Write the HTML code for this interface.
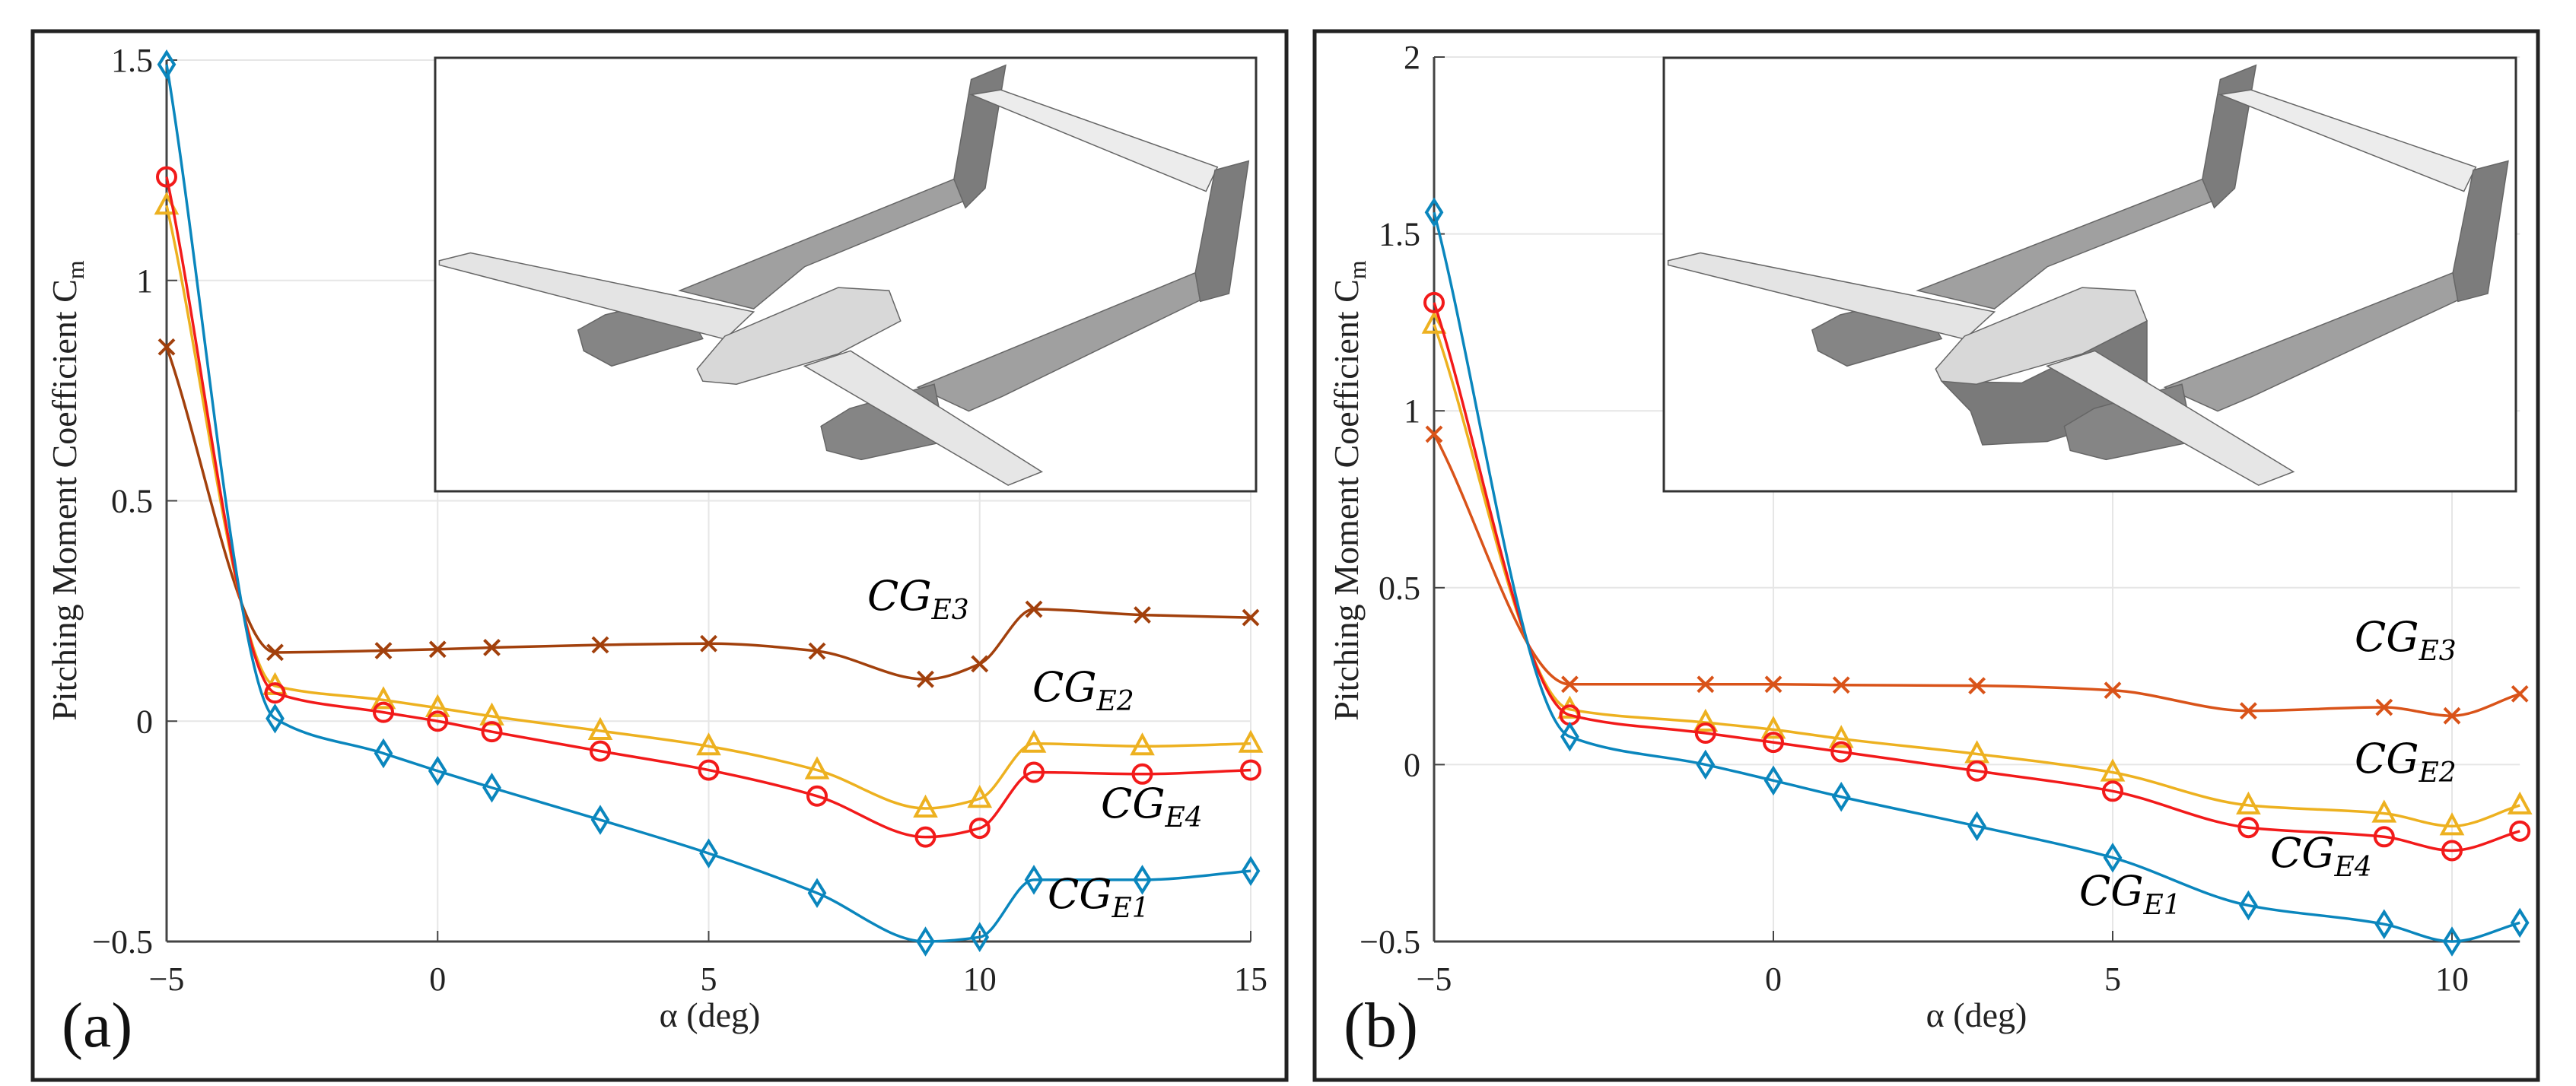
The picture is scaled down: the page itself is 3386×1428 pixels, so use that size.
<!DOCTYPE html>
<html><head><meta charset="utf-8"><style>
html,body{margin:0;padding:0;background:#fff}
svg{display:block}
svg text{font-family:'Liberation Serif','DejaVu Serif',serif}
svg text.lbl{font-family:'DejaVu Serif','Liberation Serif',serif;font-style:italic}
</style></head><body>
<svg id="fig" width="3386" height="1428" viewBox="0 0 3386 1428" xmlns="http://www.w3.org/2000/svg"></svg>
<script>
// ---- data: panel (a)
const alphaA = [-5,-3,-1,0,1,3,5,7,9,10,11,13,15];
const cgE1A = [1.49,0.006,-0.073,-0.113,-0.151,-0.224,-0.30,-0.39,-0.50,-0.49,-0.36,-0.36,-0.34];
const cgE2A = [1.17,0.08,0.048,0.03,0.011,-0.022,-0.057,-0.111,-0.198,-0.176,-0.051,-0.057,-0.051];
const cgE3A = [0.849,0.156,0.16,0.163,0.167,0.173,0.176,0.159,0.095,0.13,0.254,0.241,0.235];
const cgE4A = [1.235,0.064,0.02,0,-0.024,-0.068,-0.111,-0.17,-0.263,-0.243,-0.116,-0.12,-0.111];
const xTicksA = [-5,0,5,10,15];
const yTicksA = [-0.5,0,0.5,1,1.5];
const xTickLabelsA = ["\u22125","0","5","10","15"];
const yTickLabelsA = ["\u22120.5","0","0.5","1","1.5"];
// ---- data: panel (b)
const alphaB = [-5,-3,-1,0,1,3,5,7,9,10,11];
const cgE1B = [1.561,0.079,0,-0.045,-0.091,-0.174,-0.263,-0.398,-0.451,-0.50,-0.447];
const cgE2B = [1.244,0.156,0.119,0.099,0.073,0.03,-0.022,-0.115,-0.138,-0.174,-0.115];
const cgE3B = [0.934,0.227,0.227,0.227,0.225,0.223,0.21,0.152,0.162,0.138,0.2];
const cgE4B = [1.306,0.14,0.089,0.063,0.036,-0.018,-0.075,-0.178,-0.204,-0.243,-0.188];
const xTicksB = [-5,0,5,10];
const yTicksB = [-0.5,0,0.5,1,1.5,2];
const xTickLabelsB = ["\u22125","0","5","10"];
const yTickLabelsB = ["\u22120.5","0","0.5","1","1.5","2"];

const NS="http://www.w3.org/2000/svg";
const svg=document.getElementById('fig');
function mk(tag,attrs,parent){const e=document.createElementNS(NS,tag);for(const k in attrs)e.setAttribute(k,attrs[k]);(parent||svg).appendChild(e);return e;}

function smooth(pts){
  const n=pts.length, dx=[], sl=[], m=[];
  for(let i=0;i<n-1;i++){dx[i]=pts[i+1][0]-pts[i][0];sl[i]=(pts[i+1][1]-pts[i][1])/dx[i];}
  m[0]=sl[0];m[n-1]=sl[n-2];
  for(let i=1;i<n-1;i++){
    if(sl[i-1]*sl[i]<=0)m[i]=0;
    else{const w1=2*dx[i]+dx[i-1],w2=dx[i]+2*dx[i-1];m[i]=(w1+w2)/(w1/sl[i-1]+w2/sl[i]);}
  }
  let d="M"+pts[0][0]+","+pts[0][1];
  for(let i=0;i<n-1;i++){
    const h=dx[i]/3;
    d+=" C"+(pts[i][0]+h)+","+(pts[i][1]+m[i]*h)+" "+(pts[i+1][0]-h)+","+(pts[i+1][1]-m[i+1]*h)+" "+pts[i+1][0]+","+pts[i+1][1];
  }
  return d;
}
function marker(g,type,x,y,color){
  let e;
  if(type==='diamond'){e=mk('polygon',{points:`${x},${y-16} ${x+10},${y} ${x},${y+16} ${x-10},${y}`,fill:'none',stroke:color,'stroke-width':4},g);}
  else if(type==='circle'){e=mk('circle',{cx:x,cy:y,r:12,fill:'none',stroke:color,'stroke-width':4},g);}
  else if(type==='triangle'){e=mk('polygon',{points:`${x},${y-14} ${x+13},${y+10} ${x-13},${y+10}`,fill:'none',stroke:color,'stroke-width':4},g);}
  else {e=mk('path',{d:`M${x-10},${y-10}L${x+10},${y+10}M${x-10},${y+10}L${x+10},${y-10}`,stroke:color,'stroke-width':4},g);}
  
  
}

const plane=[
 ['#a0a0a0',[[298,537],[632,280],[646,329],[450,482],[388,579]],'left-boom'],
 ['#a0a0a0',[[588,760],[926,496],[932,559],[691,781],[650,815]],'right-boom'],
 ['#7c7c7c',[[653,50],[695,17],[670,301],[646,346],[632,280]],'left-fin'],
 ['#ececec',[[653,85],[689,74],[953,252],[939,308]],'horizontal-tail'],
 ['#7c7c7c',[[950,259],[991,238],[967,544],[932,562],[926,496]],'right-fin'],
 ['#858585',[[174,628],[207,593],[298,551],[326,648],[215,711],[181,676]],'left-nacelle'],
 ['#e4e4e4',[[5,468],[43,450],[388,586],[353,649],[5,478]],'left-wing'],
];
const fuselageBox=['#7a7a7a',[[326,746],[420,750],[567,607],[567,815],[450,885],[374,893],[360,815]],'fuselage-body'];
const plane2=[
 ['#d8d8d8',[[319,718],[353,642],[491,530],[553,537],[567,607],[491,683],[367,753],[326,746]],'fuselage'],
 ['#858585',[[470,850],[505,809],[608,753],[622,885],[519,927],[477,906]],'right-nacelle'],
 ['#e6e6e6',[[450,711],[506,676],[739,955],[698,986]],'right-wing'],
];

function panel(o){
  const P=mk('g',{});
  mk('rect',{x:o.fx,y:41,width:o.fw,height:1379,fill:'#fff',stroke:'#222','stroke-width':5,},P);
  const X=v=>o.x0+(v-o.xmin)*o.xs, Y=v=>o.y0-(v-o.ymin)*o.ys;
  const grid=mk('g',{},P);
  o.xt.forEach(v=>mk('line',{x1:X(v),x2:X(v),y1:Y(o.ymax),y2:Y(o.ymin),stroke:'#e6e6e6','stroke-width':2},grid));
  o.yt.forEach(v=>mk('line',{x1:X(o.xmin),x2:X(o.xmax),y1:Y(v),y2:Y(v),stroke:'#e6e6e6','stroke-width':2},grid));
  mk('line',{x1:X(o.xmin),x2:X(o.xmin),y1:Y(o.ymax),y2:Y(o.ymin),stroke:'#444','stroke-width':3,},P);
  mk('line',{x1:X(o.xmin),x2:X(o.xmax),y1:Y(o.ymin),y2:Y(o.ymin),stroke:'#444','stroke-width':3,},P);
  o.xt.forEach((v,i)=>{const t=mk('text',{x:X(v),y:1302,'text-anchor':'middle','font-size':44,fill:'#222',},P);t.textContent=o.xl[i];
    mk('line',{x1:X(v),x2:X(v),y1:Y(o.ymin),y2:Y(o.ymin)-14,stroke:'#444','stroke-width':2},P);});
  o.yt.forEach((v,i)=>{const t=mk('text',{x:X(o.xmin)-18,y:Y(v)+15,'text-anchor':'end','font-size':44,fill:'#222',},P);t.textContent=o.yl[i];
    mk('line',{x1:X(o.xmin),x2:X(o.xmin)+14,y1:Y(v),y2:Y(v),stroke:'#444','stroke-width':2},P);});
  const I=mk('g',{},P);
  mk('rect',{x:o.ix,y:76,width:o.iw,height:570,fill:'#fff',stroke:'#333','stroke-width':3},I);
  const toP=pts=>pts.map(p=>(o.ix+p[0]*o.iw/1000)+","+(76+p[1]*570/1000)).join(" ");
  const all=plane.concat(o.box?[fuselageBox]:[]).concat(plane2);
  all.forEach(s=>{const e=mk('polygon',{points:toP(s[1]),fill:s[0],stroke:'#666','stroke-width':1.5},I);});
  o.series.forEach(s=>{
    const g=mk('g',{},P);
    
    
    const pts=o.xs_data.map((a,i)=>[X(a),Y(s.v[i])]);
    mk('path',{d:smooth(pts),fill:'none',stroke:s.c,'stroke-width':3.5},g);
    pts.forEach(p=>marker(g,s.m,p[0],p[1],s.c));
  });
  o.labels.forEach(l=>{const t=mk('text',{x:l[0],y:l[1],class:'lbl',fill:'#000','font-size':54},P);
    
    t.innerHTML='CG<tspan font-size="36" dy="12">'+l[2]+'</tspan>';});
  const yt=mk('text',{x:0,y:0,fill:'#222','font-size':46,'text-anchor':'middle',transform:`translate(${o.fx+57},${645}) rotate(-90)`,},P);
  yt.innerHTML='Pitching Moment Coefficient C<tspan font-size="32" dy="10">m</tspan>';
  const xt=mk('text',{x:o.xtx,y:1350,fill:'#222','font-size':46,'text-anchor':'middle',},P);
  xt.textContent='\u03b1 (deg)';
  const pl=mk('text',{x:o.fx+38,y:1376,fill:'#111','font-size':84,},P);
  pl.textContent=o.tag;
}

const BLUE='#0a86bd',YEL='#edb120',RED='#f21a1a';
panel({name:'panel-a',tag:'(a)',fx:43,fw:1648,x0:219,xmin:-5,xmax:15,xs:71.25,y0:1238,ymin:-0.5,ymax:1.5,ys:579.5,
  xt:xTicksA,yt:yTicksA,xl:xTickLabelsA,yl:yTickLabelsA,ix:572,iw:1079,box:false,xtx:933,xs_data:alphaA,
  series:[{n:'cg-e3',v:cgE3A,c:'#a2400c',m:'x'},{n:'cg-e2',v:cgE2A,c:YEL,m:'triangle'},{n:'cg-e4',v:cgE4A,c:RED,m:'circle'},{n:'cg-e1',v:cgE1A,c:BLUE,m:'diamond'}],
  labels:[[1140,802,'E3'],[1357,922,'E2'],[1447,1075,'E4'],[1377,1194,'E1']]});
panel({name:'panel-b',tag:'(b)',fx:1728,fw:1608,x0:1885,xmin:-5,xmax:11,xs:89.2,y0:1238,ymin:-0.5,ymax:2,ys:465.2,
  xt:xTicksB,yt:yTicksB,xl:xTickLabelsB,yl:yTickLabelsB,ix:2187,iw:1120,box:true,xtx:2598,xs_data:alphaB,
  series:[{n:'cg-e3',v:cgE3B,c:'#d95319',m:'x'},{n:'cg-e2',v:cgE2B,c:YEL,m:'triangle'},{n:'cg-e4',v:cgE4B,c:RED,m:'circle'},{n:'cg-e1',v:cgE1B,c:BLUE,m:'diamond'}],
  labels:[[3095,856,'E3'],[3095,1016,'E2'],[2984,1140,'E4'],[2733,1190,'E1']]});
</script>
</body></html>
